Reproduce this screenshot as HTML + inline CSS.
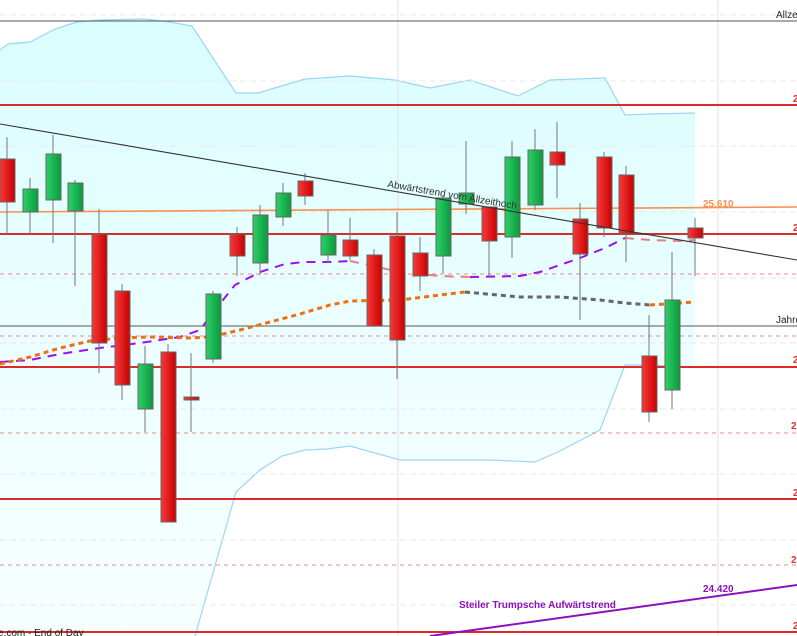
<!DOCTYPE html>
<html><head><meta charset="utf-8"><style>
html,body{margin:0;padding:0;background:#fff;}
svg{display:block;font-family:"Liberation Sans",sans-serif;}
</style></head><body>
<svg width="797" height="636" viewBox="0 0 797 636" xmlns="http://www.w3.org/2000/svg">
<defs>
<linearGradient id="bb" x1="0" y1="0" x2="0" y2="1">
<stop offset="0" stop-color="#dafdfe"/><stop offset="0.6" stop-color="#eefeff"/><stop offset="1" stop-color="#f7ffff"/></linearGradient>
<linearGradient id="rd" x1="0" y1="0" x2="1" y2="0"><stop offset="0" stop-color="#f73a3a"/><stop offset="1" stop-color="#c80000"/></linearGradient>
<linearGradient id="gr" x1="0" y1="0" x2="1" y2="0"><stop offset="0" stop-color="#2ecf6a"/><stop offset="1" stop-color="#0a9a3c"/></linearGradient>
</defs>
<rect width="797" height="636" fill="#fff"/>
<!-- bollinger fill -->
<polygon fill="url(#bb)" points="0,50 8,44 30,42 55,29 77,22 100,20 145,19 170,22 192,26 236,93 258,93 305,79 350,76 395,80 430,88 470,80 518,96 550,80 605,78 625,115 650,114 695,113 695,367 650,365 625,365 600,430 560,451 535,462 490,460 445,460 400,460 350,446 327,449 305,450 282,456 260,470 236,492 195,636 0,636"/>
<polyline fill="none" stroke="#9ad6f8" stroke-width="1.2" points="0,50 8,44 30,42 55,29 77,22 100,20 145,19 170,22 192,26 236,93 258,93 305,79 350,76 395,80 430,88 470,80 518,96 550,80 605,78 625,115 650,114 695,113"/>
<polyline fill="none" stroke="#9ad6f8" stroke-width="1.2" points="195,636 236,492 260,470 282,456 305,450 327,449 350,446 400,460 445,460 490,460 535,462 560,451 600,430 625,365 650,365 695,367"/>
<!-- grid -->
<g stroke="#e8e8e8" stroke-width="1" stroke-dasharray="6,4">
<line x1="0" y1="15" x2="797" y2="15"/><line x1="0" y1="81" x2="797" y2="81"/><line x1="0" y1="146" x2="797" y2="146"/>
<line x1="0" y1="212" x2="797" y2="212"/><line x1="0" y1="278" x2="797" y2="278"/><line x1="0" y1="343" x2="797" y2="343"/>
<line x1="0" y1="409" x2="797" y2="409"/><line x1="0" y1="474" x2="797" y2="474"/><line x1="0" y1="540" x2="797" y2="540"/><line x1="0" y1="605" x2="797" y2="605"/>
</g>
<line x1="398" y1="0" x2="398" y2="636" stroke="#e2e2e2"/>
<line x1="718" y1="0" x2="718" y2="636" stroke="#e2e2e2"/>
<!-- horizontal levels -->
<g stroke="#dd2a2a" stroke-width="2">
<line x1="0" y1="105" x2="797" y2="105"/><line x1="0" y1="234" x2="797" y2="234"/><line x1="0" y1="367" x2="797" y2="367"/>
<line x1="0" y1="499" x2="797" y2="499"/><line x1="0" y1="632" x2="797" y2="632"/></g>
<g stroke="#ec8a8a" stroke-width="1" stroke-dasharray="4,4">
<line x1="0" y1="274" x2="797" y2="274"/><line x1="0" y1="336" x2="797" y2="336"/><line x1="0" y1="433" x2="797" y2="433"/><line x1="0" y1="565" x2="797" y2="565"/></g>
<line x1="0" y1="21" x2="797" y2="21" stroke="#555" stroke-width="1"/>
<line x1="0" y1="326" x2="797" y2="326" stroke="#777" stroke-width="1.2"/>
<line x1="0" y1="212" x2="797" y2="207" stroke="#f89050" stroke-width="1.6"/>
<text x="703" y="207" font-size="10" font-weight="bold" fill="#f89050">25.610</text>
<!-- MAs -->
<polyline fill="none" stroke="#9a10f0" stroke-width="2" stroke-dasharray="9,7" points="0,362 30,360 60,354 100,348 140,343 180,337 200,330 215,310 235,285 260,272 285,264 305,262 330,262 350,261"/>
<polyline fill="none" stroke="#e08080" stroke-width="2" stroke-dasharray="9,7" points="350,261 400,272 440,276 470,277"/>
<polyline fill="none" stroke="#9a10f0" stroke-width="2" stroke-dasharray="9,7" points="470,277 520,276 540,272 560,265 580,258 605,248 625,238"/>
<polyline fill="none" stroke="#e08080" stroke-width="2" stroke-dasharray="9,7" points="625,238 650,240 680,241 695,240"/>
<polyline fill="none" stroke="#f07010" stroke-width="3" stroke-dasharray="5,4" points="0,364 30,357 60,348 90,341 120,338 150,337 190,338 210,337 240,330 270,322 300,314 330,305 350,301 400,300 440,295 465,292"/>
<polyline fill="none" stroke="#666" stroke-width="3" stroke-dasharray="5,4" points="465,292 520,297 560,297 600,300 625,303 650,305"/>
<polyline fill="none" stroke="#f07010" stroke-width="3" stroke-dasharray="5,4" points="650,305 695,302"/>
<!-- candles -->
<g stroke="#777" stroke-width="1">
<line x1="7" y1="137" x2="7" y2="234"/><line x1="30" y1="178" x2="30" y2="234"/><line x1="53" y1="135" x2="53" y2="243"/><line x1="75" y1="180" x2="75" y2="286"/>
<line x1="99" y1="209" x2="99" y2="373"/><line x1="122" y1="284" x2="122" y2="400"/><line x1="145" y1="346" x2="145" y2="432"/><line x1="168" y1="344" x2="168" y2="522"/>
<line x1="191" y1="353" x2="191" y2="432"/><line x1="213" y1="291" x2="213" y2="363"/><line x1="237" y1="227" x2="237" y2="276"/><line x1="260" y1="205" x2="260" y2="275"/>
<line x1="283" y1="183" x2="283" y2="226"/><line x1="305" y1="173" x2="305" y2="205"/><line x1="328" y1="210" x2="328" y2="263"/><line x1="350" y1="218" x2="350" y2="260"/>
<line x1="374" y1="249" x2="374" y2="327"/><line x1="397" y1="212" x2="397" y2="379"/><line x1="420" y1="237" x2="420" y2="291"/><line x1="443" y1="196" x2="443" y2="273"/>
<line x1="466" y1="141" x2="466" y2="214"/><line x1="489" y1="207" x2="489" y2="276"/><line x1="512" y1="141" x2="512" y2="258"/><line x1="535" y1="129" x2="535" y2="210"/>
<line x1="557" y1="122" x2="557" y2="198"/><line x1="580" y1="203" x2="580" y2="320"/><line x1="604" y1="152" x2="604" y2="237"/><line x1="626" y1="166" x2="626" y2="262"/>
<line x1="649" y1="315" x2="649" y2="422"/><line x1="672" y1="252" x2="672" y2="409"/><line x1="695" y1="218" x2="695" y2="276"/>
</g>
<g stroke="#666" stroke-width="1">
<rect x="0" y="159" width="15" height="43" fill="url(#rd)"/>
<rect x="23" y="189" width="15" height="23" fill="url(#gr)"/>
<rect x="46" y="154" width="15" height="46" fill="url(#gr)"/>
<rect x="68" y="183" width="15" height="28" fill="url(#gr)"/>
<rect x="92" y="234" width="15" height="109" fill="url(#rd)"/>
<rect x="115" y="291" width="15" height="94" fill="url(#rd)"/>
<rect x="138" y="364" width="15" height="45" fill="url(#gr)"/>
<rect x="161" y="352" width="15" height="170" fill="url(#rd)"/>
<rect x="184" y="397" width="15" height="3" fill="url(#rd)"/>
<rect x="206" y="294" width="15" height="65" fill="url(#gr)"/>
<rect x="230" y="234" width="15" height="22" fill="url(#rd)"/>
<rect x="253" y="215" width="15" height="48" fill="url(#gr)"/>
<rect x="276" y="193" width="15" height="24" fill="url(#gr)"/>
<rect x="298" y="181" width="15" height="15" fill="url(#rd)"/>
<rect x="321" y="235" width="15" height="20" fill="url(#gr)"/>
<rect x="343" y="240" width="15" height="16" fill="url(#rd)"/>
<rect x="367" y="255" width="15" height="71" fill="url(#rd)"/>
<rect x="390" y="236" width="15" height="104" fill="url(#rd)"/>
<rect x="413" y="253" width="15" height="23" fill="url(#rd)"/>
<rect x="436" y="198" width="15" height="58" fill="url(#gr)"/>
<rect x="459" y="193" width="15" height="11" fill="url(#gr)"/>
<rect x="482" y="207" width="15" height="34" fill="url(#rd)"/>
<rect x="505" y="157" width="15" height="80" fill="url(#gr)"/>
<rect x="528" y="150" width="15" height="55" fill="url(#gr)"/>
<rect x="550" y="152" width="15" height="13" fill="url(#rd)"/>
<rect x="573" y="219" width="15" height="35" fill="url(#rd)"/>
<rect x="597" y="157" width="15" height="71" fill="url(#rd)"/>
<rect x="619" y="175" width="15" height="59" fill="url(#rd)"/>
<rect x="642" y="356" width="15" height="56" fill="url(#rd)"/>
<rect x="665" y="300" width="15" height="90" fill="url(#gr)"/>
<rect x="688" y="228" width="15" height="10" fill="url(#rd)"/>
</g>
<!-- trend lines -->
<line x1="0" y1="124" x2="797" y2="260" stroke="#333" stroke-width="1.1"/>
<text x="387" y="187" font-size="10" fill="#333" transform="rotate(9.7 387 187)">Abwärtstrend vom Allzeithoch</text>
<line x1="430" y1="636" x2="797" y2="585" stroke="#8a10c0" stroke-width="2"/>
<text x="459" y="608" font-size="10" font-weight="bold" fill="#8a10c0">Steiler Trumpsche Aufwärtstrend</text>
<text x="703" y="592" font-size="10" font-weight="bold" fill="#8a10c0">24.420</text>
<!-- right labels -->
<text x="776" y="18" font-size="10" fill="#222">Allzeit</text>
<text x="776" y="323" font-size="10" fill="#222">Jahres</text>
<g font-size="10" font-weight="bold" fill="#e03030">
<text x="793" y="102">2</text><text x="793" y="231">2</text><text x="793" y="363">2</text><text x="791" y="429">2</text>
<text x="793" y="496">2</text><text x="791" y="563">2</text><text x="793" y="629">2</text></g>
<text x="-2" y="636" font-size="10" fill="#222">e.com - End of Day</text>
</svg>
</body></html>
